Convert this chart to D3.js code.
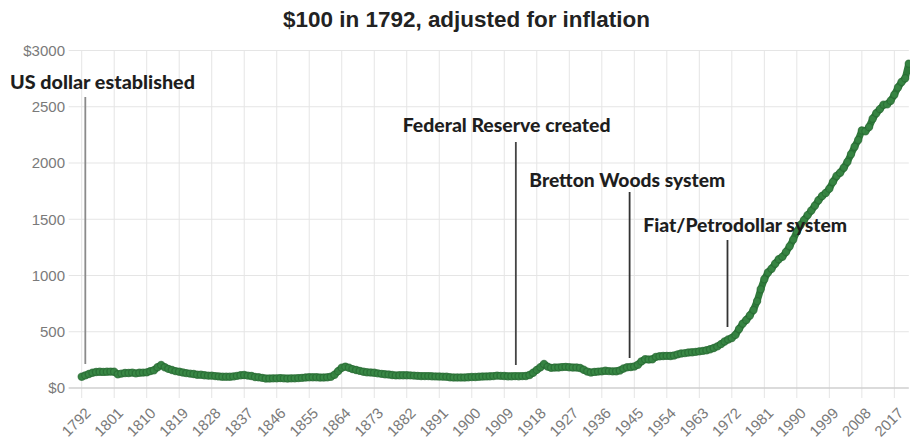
<!DOCTYPE html>
<html><head><meta charset="utf-8">
<script src="https://cdn.jsdelivr.net/npm/d3@7/dist/d3.min.js"></script>
<style>body{margin:0;background:#fff}svg{display:block}</style>
</head><body><svg id="c" width="910" height="439"></svg>
<script>
// ---- data ----
const title = "$100 in 1792, adjusted for inflation";
const firstYear = 1792, lastYear = 2021;
const years = d3.range(firstYear, lastYear + 1);
const values = [
  100,112,125,136,142,145,143,145,146,144,
  122,128,134,133,137,130,136,137,139,150,
  158,185,204,185,170,160,150,145,138,132,
  128,124,118,118,114,110,110,106,103,100,
  100,100,103,108,114,115,110,107,98,95,
  90,84,85,86,86,88,86,84,86,86,
  88,90,94,96,95,96,93,94,95,100,
  118,150,180,190,180,168,160,152,145,140,
  138,135,130,126,122,120,115,112,114,114,
  114,112,110,108,106,106,106,104,103,102,
  101,100,96,94,94,94,94,96,98,98,
  100,102,103,104,106,110,108,107,104,104,
  106,
  105,106,107,116,136,161,184,213,190,179,
  182,182,186,188,185,182,182,178,162,146,
  138,143,146,148,153,150,148,149,156,173,
  184,187,191,207,237,256,253,256,277,282,
  284,286,285,289,299,307,310,315,318,321,
  326,330,335,345,355,370,390,413,431,445,
  472,524,572,605,645,694,772,877,967,1027,
  1060,1105,1145,1166,1209,1259,1319,1390,1449,1493,
  1537,1577,1621,1669,1707,1734,1772,1832,1884,1914,
  1957,2010,2078,2145,2205,2290,2282,2320,2393,2443,
  2479,2518,2521,2553,2607,2671,2720,2753,2883
];
const yTickValues = [0,500,1000,1500,2000,2500,3000];
const yTickLabels = ["$0","500","1000","1500","2000","2500","$3000"];
const xTickYears = years.filter((yr,i) => i % 9 === 0);
const annoYears = [1793, 1912.2, 1943.7, 1970.8];
const annoLabels = ["US dollar established","Federal Reserve created","Bretton Woods system","Fiat/Petrodollar system"];

// ---- layout ----
const W = 910, H = 439;
const plotL = 81.7, plotR = 908.8, plotT = 50.5, plotB = 388;
const x = d3.scaleLinear().domain([firstYear, lastYear]).range([plotL, plotR]);
const y = d3.scaleLinear().domain([0, 3000]).range([plotB, plotT]);
const svg = d3.select("#c");
svg.append("rect").attr("width", W).attr("height", H).attr("fill", "#fff");

function fit(sel, target, base){
  sel.style("font-size", base + "px");
  const w = sel.node().getComputedTextLength();
  sel.style("font-size", (base * target / w) + "px");
}

// grid
const g = svg.append("g");
g.selectAll("line.hg").data(yTickValues).join("line")
  .attr("x1", plotL - 13).attr("x2", plotR)
  .attr("y1", d => y(d)).attr("y2", d => y(d))
  .attr("stroke", "#e5e5e5").attr("stroke-width", 1);
g.selectAll("line.vg").data(xTickYears).join("line")
  .attr("x1", d => x(d)).attr("x2", d => x(d))
  .attr("y1", plotT).attr("y2", plotB + 10)
  .attr("stroke", "#e5e5e5").attr("stroke-width", 1);
g.append("line").attr("x1", plotL - 13).attr("x2", plotR).attr("y1", y(0)).attr("y2", y(0))
  .attr("stroke", "#c4c4c4");

// y labels
svg.selectAll("text.yl").data(yTickValues).join("text")
  .attr("x", 65).attr("y", d => y(d)).attr("dy", "0.36em")
  .attr("text-anchor", "end").attr("fill", "#7a7a7a")
  .style("font-family", "'Liberation Sans', Arial, sans-serif").style("font-size", "15px")
  .text((d,i) => yTickLabels[i]);

// x labels
svg.selectAll("text.xl").data(xTickYears).join("text")
  .attr("text-anchor", "end").attr("fill", "#7a7a7a")
  .attr("transform", d => `translate(${x(d) + 10},${414}) rotate(-45)`)
  .style("font-family", "'Liberation Sans', Arial, sans-serif").style("font-size", "15px")
  .text(d => d);

// title
const t = svg.append("text").attr("x", 466.5).attr("y", 27).attr("text-anchor", "middle")
  .attr("fill", "#222").style("font-family", "'Liberation Sans', Arial, sans-serif")
  .style("font-weight", "bold").text(title);
fit(t, 367, 20);

// line + points
const pts = years.map((yr, i) => [yr, values[i]]);
svg.append("path").datum(pts)
  .attr("d", d3.line().x(d => x(d[0])).y(d => y(d[1])))
  .attr("fill", "none").attr("stroke", "#2f7a3b").attr("stroke-width", 7)
  .attr("stroke-linejoin", "round").attr("stroke-linecap", "round");
svg.append("g").selectAll("circle").data(pts).join("circle")
  .attr("cx", d => x(d[0])).attr("cy", d => y(d[1])).attr("r", 3.6)
  .attr("fill", "#3d8c48").attr("fill-opacity", 0.55)
  .attr("stroke", "#276a32").attr("stroke-opacity", 0.7).attr("stroke-width", 1.2);

// annotations
const annoLayout = [
  {tx: 10, ty: 89, tw: 185, y1: 97, y2: 364, col: "#8a8a8a"},
  {tx: 402.7, ty: 132, tw: 208, y1: 142, y2: 365, col: "#444"},
  {tx: 529.3, ty: 187, tw: 196, y1: 192, y2: 358, col: "#333"},
  {tx: 643.3, ty: 232, tw: 204, y1: 240, y2: 327, col: "#333"}
];
annoYears.forEach((yr, i) => {
  const L = annoLayout[i];
  svg.append("line").attr("x1", x(yr)).attr("x2", x(yr)).attr("y1", L.y1).attr("y2", L.y2)
    .attr("stroke", L.col).attr("stroke-width", 1.8);
  const tt = svg.append("text").attr("x", L.tx).attr("y", L.ty).attr("fill", "#1e1e1e")
    .style("font-family", "Lato, 'Open Sans', sans-serif").style("font-weight", "900")
    .text(annoLabels[i]);
  fit(tt, L.tw, 16);
});
</script>
</body></html>
